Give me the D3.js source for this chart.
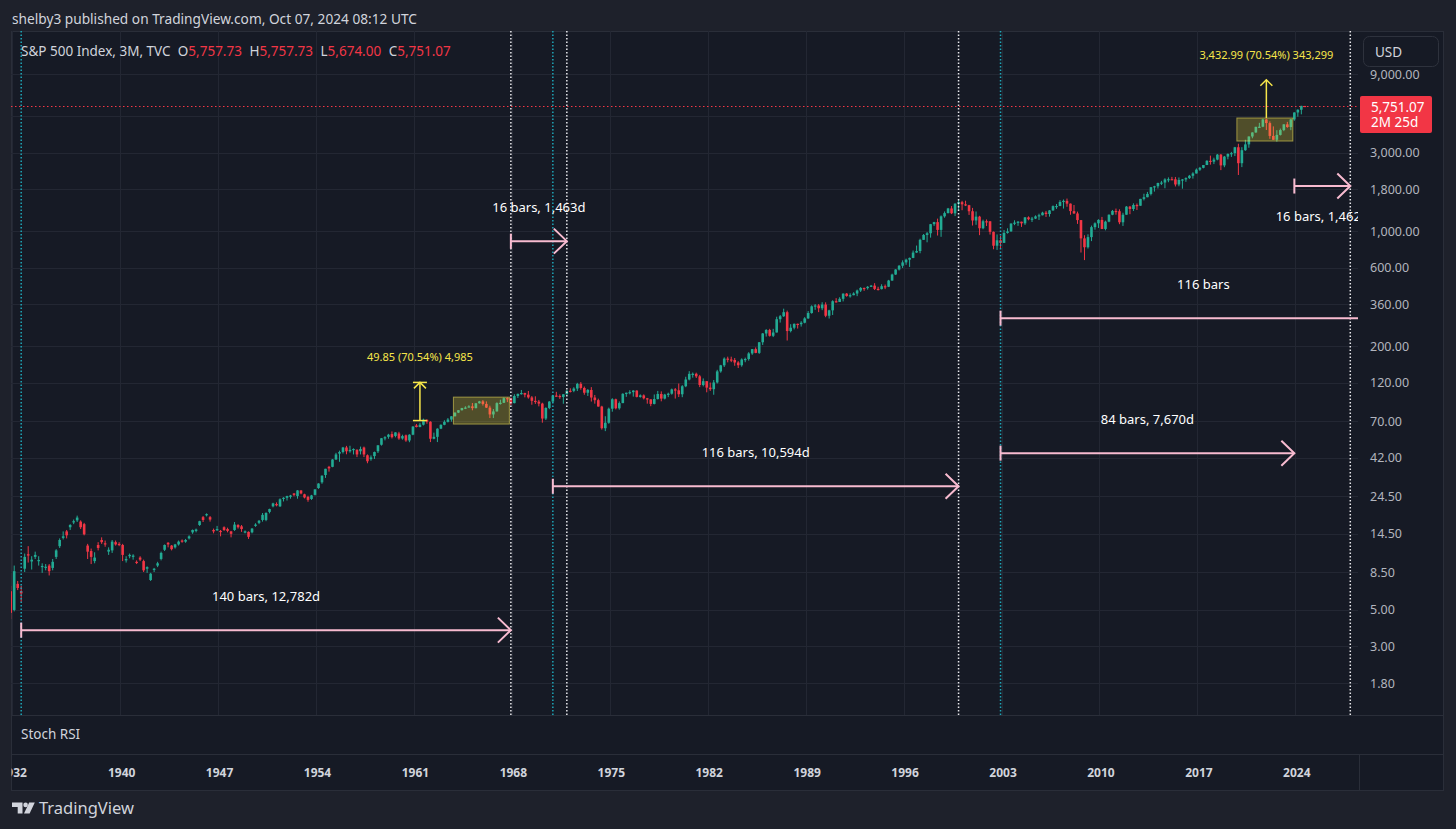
<!DOCTYPE html>
<html>
<head>
<meta charset="utf-8">
<script src="https://cdn.jsdelivr.net/npm/d3@7"></script>
<style>
  html, body { margin: 0; padding: 0; background: #1e212b; }
  svg { display: block; }
  text { font-family: "Noto Sans", "Open Sans", sans-serif; }
</style>
</head>
<body>
<div id="chart"></div>
<script>
// ---- data: S&P 500 quarterly bars [open, high, low, close], first bar = 1932 Q2 ----
const firstQuarter = 1932.25;

const q1930s = [
  [6.5, 7.0, 4.4, 4.8], [5.0, 9.3, 4.9, 8.6], [7.2, 7.5, 6.6, 6.8],
  [6.5, 7.0, 5.6, 6.3], [8.9, 11.0, 8.5, 10.5], [10.9, 12.2, 9.7, 10.7], [9.85, 10.6, 8.8, 10.1],
  [10.5, 11.3, 10.2, 10.8], [9.9, 10.6, 9.3, 10.05], [9.15, 9.6, 8.4, 9.25], [9.05, 9.5, 8.7, 9.15],
  [9.3, 9.5, 8.1, 8.6], [9.0, 10.2, 8.7, 9.8], [10.5, 11.7, 10.2, 11.5], [12.2, 13.6, 11.9, 13.3],
  [13.7, 15.0, 13.4, 14.0], [15.0, 15.3, 13.6, 14.2], [15.9, 16.6, 15.3, 16.4], [17.0, 17.7, 16.6, 17.3],
  [17.5, 18.7, 17.1, 18.2], [17.2, 17.5, 15.5, 15.9], [16.6, 16.9, 14.2, 14.4], [12.3, 12.6, 10.2, 11.3],
  [11.4, 11.8, 9.5, 10.5], [9.9, 11.2, 9.6, 10.4], [12.4, 12.9, 11.5, 11.9], [13.3, 13.8, 12.6, 12.9],
  [12.7, 13.2, 12.1, 12.5], [11.3, 12.0, 10.8, 11.6], [11.5, 13.3, 11.1, 13.0], [12.9, 13.2, 12.3, 12.5]
];
const q1940s = [
  [12.6, 12.9, 12.2, 12.4], [12.4, 12.6, 9.9, 10.8], [10.0, 10.6, 9.7, 10.2], [10.6, 11.0, 10.3, 10.8],
  [10.5, 10.9, 10.1, 10.7], [9.8, 10.0, 9.5, 9.7], [10.4, 10.6, 9.9, 10.1], [9.9, 10.1, 8.5, 8.7],
  [8.9, 9.2, 8.4, 9.1], [7.6, 8.4, 7.5, 8.3], [8.8, 9.0, 8.5, 8.9], [9.3, 9.8, 9.1, 9.6],
  [10.2, 11.3, 10.0, 11.1], [11.6, 12.5, 11.4, 12.4], [12.8, 12.9, 12.0, 12.5], [12.3, 12.4, 11.5, 11.7],
  [12.0, 12.6, 11.8, 12.5], [12.5, 13.2, 12.3, 13.0], [13.2, 13.4, 12.8, 13.0], [13.0, 13.5, 12.8, 13.3],
  [13.6, 14.2, 13.4, 14.0], [14.8, 15.4, 14.5, 15.3], [15.1, 15.6, 14.8, 15.4], [16.4, 17.4, 16.2, 17.3],
  [18.3, 18.6, 17.1, 17.6], [18.8, 19.3, 18.5, 19.1], [18.3, 18.6, 17.2, 17.7], [15.3, 15.6, 14.6, 15.0],
  [15.3, 16.2, 15.1, 15.5], [15.1, 15.3, 14.0, 14.9], [15.9, 16.1, 15.1, 15.3], [15.5, 15.8, 14.8, 15.1],
  [15.0, 15.1, 13.8, 14.5], [15.3, 17.1, 15.1, 16.5], [16.4, 16.6, 15.6, 15.9], [16.1, 16.4, 14.9, 15.5],
  [14.9, 15.2, 14.6, 15.0], [14.9, 15.0, 13.5, 13.9], [14.8, 15.7, 14.6, 15.6], [16.2, 16.8, 16.0, 16.5]
];
const q1950s = [
  [16.9, 17.6, 16.6, 17.4], [17.6, 19.4, 17.2, 18.9], [17.6, 19.6, 17.3, 19.4], [19.7, 20.6, 19.3, 20.5],
  [21.3, 22.4, 21.0, 22.2], [22.0, 22.5, 21.3, 21.6], [21.3, 23.8, 21.1, 23.5], [23.6, 24.2, 22.8, 24.0],
  [24.0, 24.7, 23.1, 24.6], [24.3, 25.0, 23.7, 24.8], [25.5, 25.6, 24.5, 25.0], [24.6, 26.7, 23.7, 26.6],
  [26.6, 26.7, 25.2, 25.5], [25.2, 25.4, 23.8, 24.1], [24.3, 24.7, 22.7, 23.3], [23.6, 25.0, 23.3, 24.8],
  [25.0, 27.0, 24.8, 27.0], [27.5, 29.4, 27.2, 29.3], [29.8, 32.8, 29.2, 32.7], [33.0, 36.0, 31.7, 36.0],
  [37.0, 37.5, 34.6, 36.2], [37.0, 41.2, 36.8, 41.0], [41.0, 45.0, 40.8, 44.0], [44.5, 46.4, 39.7, 45.5],
  [45.5, 48.9, 44.6, 48.5], [48.5, 49.6, 44.1, 46.0], [46.0, 49.7, 45.1, 46.9], [46.9, 47.9, 44.0, 47.5],
  [47.0, 47.2, 42.4, 44.0], [46.0, 49.1, 44.0, 47.5], [48.5, 49.1, 42.4, 44.0], [43.5, 44.0, 38.9, 40.0],
  [41.2, 43.4, 40.3, 42.2], [43.0, 45.8, 41.3, 45.5], [46.0, 50.1, 44.9, 50.0], [50.4, 55.4, 49.8, 55.2],
  [55.0, 56.8, 53.6, 56.0], [56.3, 58.7, 54.8, 58.0], [58.5, 60.7, 55.0, 56.0], [57.0, 60.0, 55.9, 59.9]
];
const q1960s = [
  [59.0, 60.4, 54.0, 55.0], [55.0, 58.0, 54.1, 56.9], [57.5, 58.1, 52.5, 53.5], [53.5, 58.4, 52.2, 58.0],
  [58.0, 65.3, 57.6, 65.0], [66.0, 67.4, 64.2, 64.6], [64.6, 68.5, 64.3, 66.7], [66.7, 72.6, 66.0, 71.5],
  [71.5, 71.7, 67.6, 69.6], [69.5, 70.0, 52.3, 54.8], [54.8, 59.7, 54.4, 56.3], [56.3, 63.4, 52.3, 63.1],
  [63.1, 67.0, 62.7, 66.6], [66.6, 71.0, 66.2, 69.4], [69.4, 73.2, 68.8, 71.7], [71.7, 75.2, 69.6, 75.0],
  [75.0, 79.2, 75.0, 78.98], [79.0, 81.9, 78.5, 81.7], [81.7, 84.4, 81.3, 84.2], [84.2, 86.3, 83.0, 84.75],
  [84.75, 87.6, 84.7, 86.2], [86.2, 90.3, 81.6, 84.1], [84.1, 90.4, 83.8, 89.96], [90.0, 93.0, 89.6, 92.4],
  [92.4, 94.1, 87.2, 89.2], [89.2, 92.4, 84.3, 84.7], [84.7, 87.0, 73.2, 77.0], [77.0, 83.0, 73.2, 80.3],
  [80.3, 91.2, 80.2, 90.2], [90.2, 94.6, 88.4, 90.6], [90.6, 97.6, 90.3, 96.7], [96.7, 97.6, 91.5, 96.5],
  [96.5, 97.3, 87.7, 90.2], [90.2, 102.1, 89.9, 99.6], [99.6, 103.0, 96.9, 102.7], [102.7, 108.4, 101.6, 103.9],
  [103.9, 104.3, 97.8, 101.5], [101.5, 106.9, 96.0, 97.7], [97.7, 99.6, 88.2, 93.1], [93.1, 99.2, 89.2, 92.1]
];
const q1970s = [
  [92.1, 94.3, 86.2, 89.6], [89.6, 90.7, 68.6, 72.7], [72.7, 85.1, 71.2, 84.3], [84.3, 92.8, 82.9, 92.15],
  [92.15, 101.3, 90.6, 100.3], [100.3, 105.6, 98.3, 99.7], [99.7, 101.9, 95.7, 98.3], [98.3, 102.2, 89.4, 102.1],
  [102.1, 108.4, 101.7, 107.2], [107.2, 111.0, 104.7, 107.1], [107.1, 112.6, 105.1, 110.6], [110.6, 119.8, 106.8, 118.05],
  [118.05, 121.0, 108.8, 111.5], [111.5, 113.7, 101.4, 104.3], [104.3, 109.9, 99.7, 108.4], [108.4, 112.8, 92.2, 97.55],
  [97.55, 101.1, 89.5, 94.0], [94.0, 96.0, 85.8, 86.0], [86.0, 86.9, 62.3, 63.5], [63.5, 75.1, 60.96, 68.56],
  [68.56, 84.7, 67.6, 83.4], [83.4, 96.6, 80.0, 95.2], [95.2, 96.0, 82.6, 83.9], [83.9, 92.4, 82.3, 90.2],
  [90.2, 103.5, 90.2, 102.8], [102.8, 104.4, 98.5, 104.3], [104.3, 108.0, 101.9, 105.2], [105.2, 108.0, 98.8, 107.5],
  [107.5, 107.9, 97.7, 98.4], [98.4, 101.9, 97.4, 100.5], [100.5, 101.9, 95.0, 96.5], [96.5, 97.0, 89.5, 95.1],
  [95.1, 95.2, 86.4, 89.2], [89.2, 101.8, 88.6, 95.5], [95.5, 107.0, 94.9, 102.5], [102.5, 106.3, 92.5, 96.1],
  [96.1, 102.7, 95.0, 101.6], [101.6, 104.4, 98.1, 102.9], [102.9, 110.5, 101.6, 109.3], [109.3, 111.3, 96.1, 107.9]
];
const q1980s = [
  [107.9, 118.6, 98.2, 102.1], [102.1, 116.0, 98.0, 114.2], [114.2, 130.4, 112.7, 125.5], [125.5, 141.0, 124.0, 135.8],
  [135.8, 138.4, 128.8, 136.0], [136.0, 138.1, 128.2, 131.2], [131.2, 133.8, 112.8, 116.2], [116.2, 127.4, 114.0, 122.6],
  [122.6, 122.8, 104.9, 112.0], [112.0, 120.3, 107.0, 109.6], [109.6, 124.6, 101.4, 120.4], [120.4, 143.7, 118.7, 140.6],
  [140.6, 154.0, 138.0, 153.0], [153.0, 171.0, 149.5, 168.1], [168.1, 172.7, 159.5, 166.1], [166.1, 172.7, 160.0, 164.9],
  [164.9, 169.5, 152.1, 159.2], [159.2, 162.2, 147.3, 153.2], [153.2, 168.7, 150.1, 166.1], [166.1, 170.4, 159.8, 167.2],
  [167.2, 183.9, 163.4, 180.7], [180.7, 192.2, 177.2, 191.85], [191.85, 196.6, 181.3, 182.1], [182.1, 212.0, 179.5, 211.3],
  [211.3, 240.5, 203.5, 238.9], [238.9, 254.0, 228.8, 250.8], [250.8, 254.9, 228.7, 231.3], [231.3, 254.9, 227.2, 242.2],
  [242.2, 302.0, 242.2, 291.7], [291.7, 309.3, 278.2, 304.0], [304.0, 337.9, 301.1, 321.8], [321.8, 328.9, 216.5, 247.1],
  [247.1, 272.0, 242.6, 258.9], [258.9, 274.5, 253.0, 273.5], [273.5, 274.2, 256.0, 271.9], [271.9, 283.7, 263.0, 277.7],
  [277.7, 300.0, 275.3, 294.9], [294.9, 327.0, 293.1, 318.0], [318.0, 354.1, 315.1, 349.2], [349.2, 360.4, 332.6, 353.4]
];
const q1990s = [
  [353.4, 360.6, 322.1, 339.9], [339.9, 369.8, 330.9, 358.0], [358.0, 369.4, 300.0, 306.1], [306.1, 332.9, 294.5, 330.2],
  [330.2, 380.1, 309.4, 375.2], [375.2, 391.4, 367.9, 371.2], [371.2, 396.6, 370.9, 387.9], [387.9, 418.3, 374.1, 417.1],
  [417.1, 420.8, 399.3, 403.7], [403.7, 418.9, 394.5, 408.1], [408.1, 425.0, 407.6, 417.8], [417.8, 441.3, 402.7, 435.7],
  [435.7, 456.9, 426.9, 451.7], [451.7, 453.9, 433.5, 450.5], [450.5, 463.6, 441.4, 458.9], [458.9, 470.9, 457.5, 466.45],
  [466.45, 482.9, 438.9, 445.8], [445.8, 459.1, 435.9, 444.3], [444.3, 475.4, 442.2, 462.7], [462.7, 473.8, 444.2, 459.3],
  [459.3, 505.5, 457.2, 500.7], [500.7, 551.1, 499.3, 544.75], [544.75, 586.8, 542.5, 584.4], [584.4, 622.9, 576.7, 615.9],
  [615.9, 664.2, 597.3, 645.5], [645.5, 680.3, 624.0, 670.6], [670.6, 690.9, 605.9, 687.3], [687.3, 762.1, 684.9, 740.7],
  [740.7, 817.0, 737.0, 757.1], [757.1, 898.7, 733.5, 885.1], [885.1, 960.3, 884.5, 947.3], [947.3, 987.0, 855.3, 970.4],
  [970.4, 1105.7, 912.8, 1101.8], [1101.8, 1138.5, 1074.9, 1133.8], [1133.8, 1190.6, 939.9, 1017.0], [1017.0, 1244.9, 923.3, 1229.2],
  [1229.2, 1316.6, 1205.5, 1286.4], [1286.4, 1383.0, 1281.4, 1372.7], [1372.7, 1420.3, 1268.4, 1282.7], [1282.7, 1473.1, 1233.7, 1469.25]
];
const q2000s = [
  [1469.25, 1553.1, 1339.4, 1498.6], [1498.6, 1527.2, 1339.4, 1454.6], [1454.6, 1530.1, 1419.4, 1436.5], [1436.5, 1443.5, 1254.1, 1320.3],
  [1320.3, 1383.4, 1081.2, 1160.3], [1160.3, 1316.0, 1092.0, 1224.4], [1224.4, 1238.3, 944.8, 1040.9], [1040.9, 1173.6, 1026.8, 1148.1],
  [1148.1, 1177.0, 1074.4, 1147.4], [1147.4, 1147.8, 952.9, 989.8], [989.8, 994.5, 775.7, 815.3], [815.3, 954.3, 768.6, 879.8],
  [879.8, 935.1, 788.9, 848.2], [848.2, 1015.3, 847.9, 974.5], [974.5, 1040.0, 965.5, 996.0], [996.0, 1112.6, 990.4, 1111.9],
  [1111.9, 1163.2, 1087.2, 1126.2], [1126.2, 1150.6, 1076.3, 1140.8], [1140.8, 1140.8, 1060.7, 1114.6], [1114.6, 1217.3, 1090.2, 1211.9],
  [1211.9, 1229.1, 1163.7, 1180.6], [1180.6, 1219.6, 1136.2, 1191.3], [1191.3, 1245.9, 1183.6, 1228.8], [1228.8, 1275.8, 1168.2, 1248.3],
  [1248.3, 1310.9, 1245.7, 1294.8], [1294.8, 1326.7, 1219.3, 1270.2], [1270.2, 1340.3, 1224.5, 1335.85], [1335.85, 1431.8, 1327.1, 1418.3],
  [1418.3, 1461.6, 1364.0, 1420.9], [1420.9, 1540.6, 1416.4, 1503.35], [1503.35, 1555.9, 1370.6, 1526.75], [1526.75, 1576.1, 1406.1, 1468.4],
  [1468.4, 1471.8, 1257.0, 1322.7], [1322.7, 1440.2, 1272.0, 1280.0], [1280.0, 1313.2, 1106.4, 1166.4], [1166.4, 1167.0, 741.0, 903.25],
  [903.25, 943.9, 666.8, 797.9], [797.9, 956.2, 783.3, 919.3], [919.3, 1080.2, 869.3, 1057.1], [1057.1, 1130.4, 1020.2, 1115.1]
];
const q2010s = [
  [1115.1, 1180.7, 1044.5, 1169.4], [1169.4, 1219.8, 1028.3, 1030.7], [1030.7, 1157.2, 1010.9, 1141.2], [1141.2, 1262.6, 1131.9, 1257.6],
  [1257.6, 1344.1, 1249.1, 1325.8], [1325.8, 1370.6, 1258.1, 1320.6], [1320.6, 1356.5, 1101.5, 1131.4], [1131.4, 1292.7, 1074.8, 1257.6],
  [1257.6, 1419.2, 1257.6, 1408.5], [1408.5, 1422.4, 1266.7, 1362.2], [1362.2, 1474.5, 1325.4, 1440.7], [1440.7, 1471.0, 1343.4, 1426.2],
  [1426.2, 1570.3, 1426.2, 1569.2], [1569.2, 1687.2, 1536.0, 1606.3], [1606.3, 1729.9, 1604.6, 1681.55], [1681.55, 1849.4, 1646.5, 1848.4],
  [1848.4, 1884.0, 1737.9, 1872.3], [1872.3, 1968.2, 1814.4, 1960.2], [1960.2, 2019.3, 1904.8, 1972.3], [1972.3, 2093.6, 1820.7, 2058.9],
  [2058.9, 2119.6, 1981.0, 2067.9], [2067.9, 2134.7, 2048.4, 2063.1], [2063.1, 2132.8, 1867.0, 1920.0], [1920.0, 2116.5, 1872.0, 2043.9],
  [2043.9, 2072.2, 1810.1, 2059.7], [2059.7, 2120.6, 1991.7, 2098.9], [2098.9, 2193.8, 2074.0, 2168.3], [2168.3, 2277.5, 2083.8, 2238.8],
  [2238.8, 2401.0, 2238.8, 2362.7], [2362.7, 2453.8, 2322.3, 2423.4], [2423.4, 2519.4, 2405.7, 2519.4], [2519.4, 2695.0, 2519.4, 2673.6],
  [2673.6, 2872.9, 2532.7, 2640.9], [2640.9, 2791.5, 2553.8, 2718.4], [2718.4, 2940.9, 2692.0, 2914.0], [2914.0, 2939.9, 2346.6, 2506.85],
  [2506.85, 2860.3, 2444.0, 2834.4], [2834.4, 2964.2, 2728.8, 2941.8], [2941.8, 3028.0, 2822.1, 2976.7], [2976.7, 3247.9, 2855.9, 3230.8]
];
const q2020s = [
  [3230.8, 3393.5, 2191.9, 2584.6], [2584.6, 3233.1, 2447.5, 3100.3], [3100.3, 3588.1, 3073.2, 3363.0], [3363.0, 3760.2, 3209.5, 3756.1],
  [3756.1, 3983.9, 3662.7, 3972.9], [3972.9, 4302.4, 3955.0, 4297.5], [4297.5, 4545.9, 4233.1, 4307.5], [4307.5, 4808.9, 4278.9, 4766.2],
  [4766.2, 4818.6, 4114.7, 4530.4], [4530.4, 4637.3, 3636.9, 3785.4], [3785.4, 4325.3, 3584.1, 3585.6], [3585.6, 4101.0, 3491.6, 3839.5],
  [3839.5, 4195.4, 3808.9, 4109.3], [4109.3, 4458.5, 4048.3, 4450.4], [4450.4, 4607.1, 4238.6, 4288.05], [4288.05, 4793.3, 4103.8, 4769.8],
  [4769.8, 5264.9, 4682.1, 5254.35], [5254.35, 5487.7, 4953.6, 5460.5], [5460.5, 5767.4, 5119.3, 5762.5], [5757.73, 5757.73, 5674.0, 5751.07]
];

const yearTicks = [1932, 1940, 1947, 1954, 1961, 1968, 1975, 1982, 1989, 1996, 2003, 2010, 2017, 2024];
const priceTicks = [9000, 5000, 3000, 1800, 1000, 600, 360, 200, 120, 70, 42, 24.5, 14.5, 8.5, 5, 3, 1.8];
// 5,000 sits under the last-price label, so only its grid line shows
const priceLabels = [9000, 3000, 1800, 1000, 600, 360, 200, 120, 70, 42, 24.5, 14.5, 8.5, 5, 3, 1.8];

// vertical dotted markers (year, kind)
const markerYears = [1933, 1968, 1971, 1972, 2000, 2003, 2028];
const markerKinds = ["teal", "white", "teal", "white", "white", "teal", "white"];

// date range tool: from year, to year, price level, label, label side
const dateRanges = [
  { from: 1933, to: 1968, price: 3.77, label: "140 bars, 12,782d", side: "above" },
  { from: 1968, to: 1972, price: 869, label: "16 bars, 1,463d", side: "above" },
  { from: 1971, to: 2000, price: 28.2, label: "116 bars, 10,594d", side: "above" },
  { from: 2003, to: 2024, price: 44.8, label: "84 bars, 7,670d", side: "above" },
  { from: 2003, to: 2032, price: 296, label: "116 bars", side: "above" },
  { from: 2024, to: 2028, price: 1878, label: "16 bars, 1,462d", side: "below" }
];

// rectangles [year0, year1, priceLow, priceHigh]
const boxes = [
  [1964, 1968, 67.3, 98.1],
  [2020, 2024, 3524, 4864]
];

// price range tool
const priceRanges = [
  { from: 1961, to: 1962, p0: 70.67, p1: 120.52, label: "49.85 (70.54%) 4,985" },
  { from: 2022, to: 2022, p0: 4866, p1: 8299, label: "3,432.99 (70.54%) 343,299" }
];

const headerText = "shelby3 published on TradingView.com, Oct 07, 2024 08:12 UTC";
const seriesName = "S&P 500 Index, 3M, TVC";
const ohlcKeys = ["O", "H", "L", "C"];
const countdown = "2M 25d";

// ---- layout ----
const W = 1456, H = 829;
const frame = { left: 11, right: 1443, top: 31, bottom: 790 };
const plotRight = 1358, mainBottom = 715, rsiBottom = 754;
const col = {
  page: "#1e212b", pane: "#161a25", border: "#2a2e39", grid: "#232733",
  text: "#d1d4dc", axis: "#b2b5be", up: "#22ab94", down: "#f23645",
  pink: "#f8bbd0", teal: "#1ea7b9", yellow: "#f7e64a"
};

const bars = [].concat(q1930s, q1940s, q1950s, q1960s, q1970s, q1980s, q1990s, q2000s, q2010s, q2020s)
  .map((d, i) => ({ t: firstQuarter + i / 4, o: d[0], h: d[1], l: d[2], c: d[3] }));
const last = bars[bars.length - 1];

const x = d3.scaleLinear().domain([1933, 2028]).range([21.2, 1350.3]);
const y = d3.scaleLog().domain([1.8, 9000]).range([683, 74]);

const svg = d3.select("#chart").append("svg").attr("width", W).attr("height", H);
svg.append("rect").attr("width", W).attr("height", H).attr("fill", col.page);

const defs = svg.append("defs");
defs.append("clipPath").attr("id", "plotClip").append("rect")
  .attr("x", frame.left).attr("y", frame.top)
  .attr("width", plotRight - frame.left).attr("height", mainBottom - frame.top);
defs.append("clipPath").attr("id", "axisClip").append("rect")
  .attr("x", frame.left + 0.5).attr("y", rsiBottom)
  .attr("width", plotRight - frame.left).attr("height", frame.bottom - rsiBottom);

// pane background + borders
svg.append("rect")
  .attr("x", frame.left + 0.5).attr("y", frame.top + 0.5)
  .attr("width", frame.right - frame.left).attr("height", frame.bottom - frame.top)
  .attr("fill", col.pane).attr("stroke", col.border);
[mainBottom, rsiBottom].forEach(v => {
  svg.append("line").attr("x1", frame.left).attr("x2", frame.right)
    .attr("y1", v + 0.5).attr("y2", v + 0.5).attr("stroke", col.border);
});
svg.append("line").attr("x1", plotRight + 1.5).attr("x2", plotRight + 1.5)
  .attr("y1", rsiBottom).attr("y2", frame.bottom).attr("stroke", col.border);

// grid
const plot = svg.append("g").attr("clip-path", "url(#plotClip)");
plot.selectAll(".hgrid").data(priceTicks).join("line")
  .attr("x1", frame.left).attr("x2", plotRight)
  .attr("y1", d => Math.round(y(d)) + 0.5).attr("y2", d => Math.round(y(d)) + 0.5)
  .attr("stroke", col.grid);
plot.selectAll(".vgrid").data(yearTicks).join("line")
  .attr("x1", d => Math.round(x(Math.max(d, firstQuarter)) + 1) + 0.5)
  .attr("x2", d => Math.round(x(Math.max(d, firstQuarter)) + 1) + 0.5)
  .attr("y1", frame.top).attr("y2", mainBottom)
  .attr("stroke", col.grid);

// candles
const bodyW = 2.6;
plot.selectAll(".wick").data(bars).join("line")
  .attr("x1", d => x(d.t)).attr("x2", d => x(d.t))
  .attr("y1", d => y(d.h)).attr("y2", d => y(d.l))
  .attr("stroke", d => d.c >= d.o ? col.up : col.down).attr("stroke-width", 1);
plot.selectAll(".body").data(bars).join("rect")
  .attr("x", d => x(d.t) - bodyW / 2)
  .attr("y", d => y(Math.max(d.o, d.c)))
  .attr("width", bodyW)
  .attr("height", d => Math.max(1.2, y(Math.min(d.o, d.c)) - y(Math.max(d.o, d.c))))
  .attr("fill", d => d.c >= d.o ? col.up : col.down);

// rectangles
plot.selectAll(".box").data(boxes).join("rect")
  .attr("x", d => x(d[0]) - 1.5).attr("y", d => y(d[3]))
  .attr("width", d => x(d[1]) - x(d[0]))
  .attr("height", d => y(d[2]) - y(d[3]))
  .attr("fill", "rgba(255,235,59,0.25)")
  .attr("stroke", "rgba(240,225,90,0.55)").attr("stroke-width", 1);

// last price line
plot.append("line").attr("x1", frame.left).attr("x2", plotRight)
  .attr("y1", Math.round(y(last.c)) + 0.5).attr("y2", Math.round(y(last.c)) + 0.5)
  .attr("stroke", col.down).attr("stroke-dasharray", "1.5,2.5");

// vertical dotted markers
plot.selectAll(".marker").data(markerYears).join("line")
  .attr("x1", d => x(d)).attr("x2", d => x(d))
  .attr("y1", frame.top).attr("y2", mainBottom)
  .attr("stroke", (d, i) => markerKinds[i] === "teal" ? col.teal : "#e8e8ec")
  .attr("stroke-width", 1.5).attr("stroke-dasharray", "1.5,2");

// date ranges
dateRanges.forEach(r => {
  const x0 = x(r.from), x1 = x(r.to), yy = y(r.price);
  const g = plot.append("g").attr("fill", "none").attr("stroke", col.pink).attr("stroke-width", 2);
  g.append("line").attr("x1", x0).attr("x2", x1).attr("y1", yy).attr("y2", yy);
  g.append("line").attr("x1", x0).attr("x2", x0).attr("y1", yy - 7.5).attr("y2", yy + 7.5);
  g.append("path").attr("d", `M${x1 - 13},${yy - 12.5}L${x1},${yy}L${x1 - 13},${yy + 12.5}`);
  plot.append("text")
    .attr("x", (x0 + x1) / 2)
    .attr("y", r.side === "above" ? yy - 29 : yy + 35)
    .attr("text-anchor", "middle").attr("font-size", 13).attr("fill", "#ffffff")
    .text(r.label);
});

// price ranges
priceRanges.forEach(r => {
  const xm = (x(r.from) + x(r.to)) / 2, y0 = y(r.p0), y1 = y(r.p1);
  const g = plot.append("g").attr("fill", "none").attr("stroke", col.yellow).attr("stroke-width", 1.5);
  g.append("line").attr("x1", xm).attr("x2", xm).attr("y1", y0).attr("y2", y1);
  g.append("path").attr("d", `M${xm - 6},${y1 + 6}L${xm},${y1}L${xm + 6},${y1 + 6}`);
  if (r.to > r.from) {
    [y0, y1].forEach(v => g.append("line").attr("x1", x(r.from)).attr("x2", x(r.to)).attr("y1", v).attr("y2", v));
  }
  plot.append("text").attr("x", xm).attr("y", y1 - 21)
    .attr("text-anchor", "middle").attr("font-size", 11).attr("fill", col.yellow)
    .text(r.label);
});

// price axis
const yAxis = d3.axisRight(y).tickValues(priceLabels).tickFormat(d3.format(",.2f")).tickSize(0).tickPadding(0);
const gy = svg.append("g").attr("transform", "translate(1370,0)").call(yAxis);
gy.select(".domain").remove();
gy.selectAll("text").attr("font-size", 12.5).attr("fill", col.axis)
  .attr("font-family", "'Noto Sans', sans-serif");

// USD button
svg.append("rect").attr("x", plotRight + 1).attr("y", frame.top + 1)
  .attr("width", frame.right - plotRight - 2).attr("height", 38).attr("fill", col.pane);
svg.append("rect").attr("x", 1363.5).attr("y", 36.5).attr("width", 75).attr("height", 30).attr("rx", 6)
  .attr("fill", col.pane).attr("stroke", "#2e323d");
svg.append("text").attr("x", 1375).attr("y", 57).attr("font-size", 13.5).attr("fill", col.text).text("USD");

// last price label
const lp = y(last.c);
svg.append("rect").attr("x", 1360).attr("y", lp - 10).attr("width", 72).attr("height", 37).attr("rx", 2)
  .attr("fill", col.down);
svg.append("text").attr("x", 1371).attr("y", lp + 5.5).attr("font-size", 13.5).attr("fill", "#ffffff")
  .text(d3.format(",.2f")(last.c));
svg.append("text").attr("x", 1371).attr("y", lp + 21).attr("font-size", 13.5).attr("fill", "#ffffff")
  .text(countdown);

// time axis
const xAxis = d3.axisBottom(x)
  .tickValues(yearTicks.map(yr => Math.max(yr, firstQuarter)))
  .tickFormat(d => String(Math.floor(d))).tickSize(0).tickPadding(0);
const gx = svg.append("g").attr("clip-path", "url(#axisClip)")
  .append("g").attr("transform", "translate(2,776.5)").call(xAxis);
gx.select(".domain").remove();
gx.selectAll("text").attr("y", 0).attr("dy", 0)
  .attr("font-size", 12).attr("font-weight", 700).attr("fill", col.text)
  .attr("font-family", "'Noto Sans', sans-serif");

// header, legend, pane title
svg.append("text").attr("x", 12).attr("y", 23.5).attr("font-size", 13.7).attr("fill", col.text).text(headerText);
const legend = svg.append("text").attr("x", 21).attr("y", 56).attr("font-size", 13.5).attr("fill", col.text);
legend.append("tspan").text(seriesName);
[last.o, last.h, last.l, last.c].forEach((v, i) => {
  legend.append("tspan").attr("dx", 7.5).text(ohlcKeys[i]);
  legend.append("tspan").attr("fill", col.down).text(d3.format(",.2f")(v));
});
svg.append("text").attr("x", 21).attr("y", 739).attr("font-size", 13.5).attr("fill", col.text).text("Stoch RSI");

// TradingView mark
const logo = svg.append("g").attr("fill", col.text);
logo.append("path").attr("d", "M12,802.5h10.5v11h-4.8v-6.6h-5.7z");
logo.append("circle").attr("cx", 25.6).attr("cy", 804.9).attr("r", 2.3);
logo.append("path").attr("d", "M29.2,802.5h5.6l-5.2,11h-5.6z");
svg.append("text").attr("x", 39).attr("y", 814).attr("font-size", 16.5).attr("fill", col.text).text("TradingView");
</script>
</body>
</html>
